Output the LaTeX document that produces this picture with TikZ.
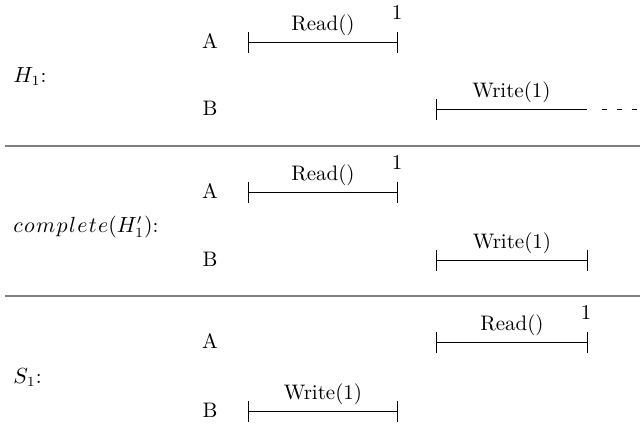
\documentclass[tikz,border=0pt]{standalone}
\usetikzlibrary{arrows.meta,calc}
\newcommand{\lsp}{\mkern1.1mu}
\begin{document}
\begin{tikzpicture}[x=0.5pt,y=-0.5pt,
  txt/.style={font=\fontsize{10.5}{12.5}\selectfont, inner sep=0pt},
  rowlabel/.style={txt, anchor=base},
  panellabel/.style={txt, anchor=base west},
  opline/.style={line width=0.5pt},
  closedop/.style={opline, {Bar[width=10.5pt]}-{Bar[width=10.5pt]}},
  openop/.style={opline, {Bar[width=10.5pt]}-},
  pending/.style={opline, dash pattern=on 2.5pt off 5pt},
  opname/.style={txt, anchor=base, yshift=6pt},
  result/.style={txt, anchor=base, yshift=11.5pt},
  separator/.style={line width=0.6pt, black!50}]
\useasboundingbox (0,0) rectangle (640,424);

% ---------- H_1 ----------
\node[panellabel] (h1) at (13,82) {$H_1$:};
\node[rowlabel] (h1A) at (210,48) {A};
\node[rowlabel] (h1B) at (210,115) {B};
\coordinate (h1rs) at (248,42);
\coordinate (h1re) at (398,42);
\draw[closedop] (h1rs) -- (h1re);
\node[opname] (h1read) at ($(h1rs)!0.5!(h1re)$) {Read()};
\node[result] (h1ret) at ([xshift=-0.5pt]h1re) {1};
\coordinate (h1ws) at (436,109);
\coordinate (h1we) at (587,109);
\draw[openop] (h1ws) -- (h1we);
\node[opname] (h1write) at ($(h1ws)!0.5!(h1we)$) {Write(1)};
\draw[pending] ([xshift=7.5pt]h1we) -- ([xshift=25pt]h1we);

\coordinate (sep1l) at (5,146);
\coordinate (sep1r) at (640,146);
\draw[separator] (sep1l) -- (sep1r);

% ---------- complete(H_1') ----------
\node[panellabel] (c1) at (13,232)
  {$c\lsp o\lsp m\lsp p\lsp l\lsp e\lsp t\lsp e(H_1')$:};
\node[rowlabel] (c1A) at (210,198) {A};
\node[rowlabel] (c1B) at (210,266) {B};
\coordinate (c1rs) at (248,192);
\coordinate (c1re) at (398,192);
\draw[closedop] (c1rs) -- (c1re);
\node[opname] (c1read) at ($(c1rs)!0.5!(c1re)$) {Read()};
\node[result] (c1ret) at ([xshift=-0.5pt]c1re) {1};
\coordinate (c1ws) at (436,260);
\coordinate (c1we) at (588,260);
\draw[closedop] (c1ws) -- (c1we);
\node[opname] (c1write) at ($(c1ws)!0.5!(c1we)$) {Write(1)};

\coordinate (sep2l) at (5,296);
\coordinate (sep2r) at (640,296);
\draw[separator] (sep2l) -- (sep2r);

% ---------- S_1 ----------
\node[panellabel] (s1) at (13,383) {$S_1$:};
\node[rowlabel] (s1A) at (210,348) {A};
\node[rowlabel] (s1B) at (210,417) {B};
\coordinate (s1rs) at (436,342);
\coordinate (s1re) at (588,342);
\draw[closedop] (s1rs) -- (s1re);
\node[opname] (s1read) at ($(s1rs)!0.5!(s1re)$) {Read()};
\node[result] (s1ret) at ([xshift=-1pt]s1re) {1};
\coordinate (s1ws) at (248,411);
\coordinate (s1we) at (398,411);
\draw[closedop] (s1ws) -- (s1we);
\node[opname] (s1write) at ($(s1ws)!0.5!(s1we)$) {Write(1)};
\end{tikzpicture}
\end{document}
